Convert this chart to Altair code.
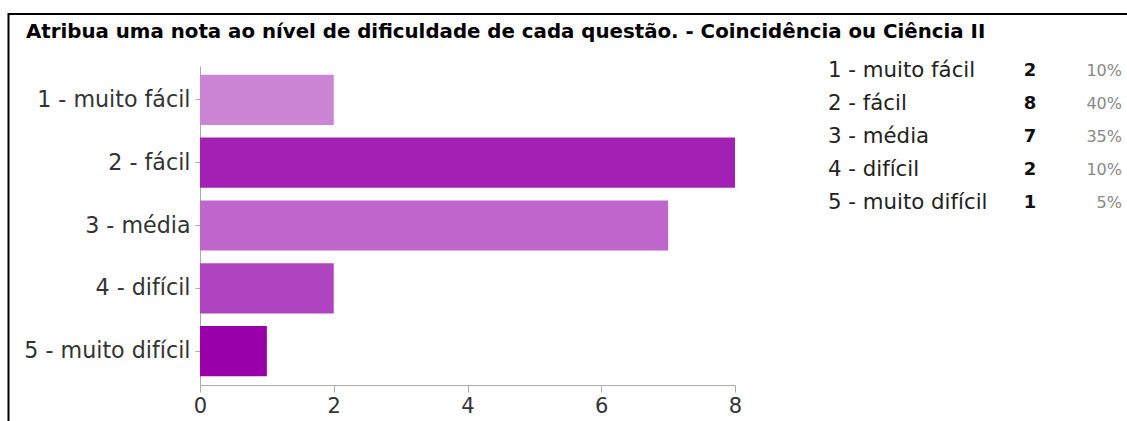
import altair as alt
import pandas as pd

categories = ["1 - muito fácil", "2 - fácil", "3 - média", "4 - difícil", "5 - muito difícil"]
counts = [2, 8, 7, 2, 1]
percents = ["10%", "40%", "35%", "10%", "5%"]
bar_colors = ["#cc84d4", "#a221b4", "#bf65cc", "#b044c0", "#9900aa"]
x_ticks = [0, 2, 4, 6, 8]
title_text = "Atribua uma nota ao nível de dificuldade de cada questão. - Coincidência ou Ciência II"

df = pd.DataFrame({"cat": categories, "n": counts, "pct": percents})
one = pd.DataFrame({"d": [0]})

FONT = "DejaVu Sans"

base = alt.Chart(df)

bars = base.mark_bar().encode(
    y=alt.Y("cat:N", sort=categories,
            scale=alt.Scale(paddingInner=0.2, paddingOuter=0.14),
            axis=alt.Axis(title=None, labelFont=FONT, labelFontSize=22.2, labelColor="#333",
                          domainColor="#aaa", tickColor="#aaa", tickSize=5, labelPadding=5)),
    x=alt.X("n:Q", scale=alt.Scale(domain=[0, 8], nice=False),
            axis=alt.Axis(title=None, values=x_ticks, grid=False, labelFont=FONT, labelFontSize=21,
                          labelColor="#333", domainColor="#aaa", tickColor="#aaa", tickSize=7,
                          labelPadding=3, labelFlush=False)),
    color=alt.Color("cat:N", scale=alt.Scale(domain=categories, range=bar_colors), legend=None),
)

ty = alt.Y("cat:N", sort=categories, scale=alt.Scale(type="point", range=[5, 137], padding=0), axis=None)

t_label = base.mark_text(align="left", baseline="middle", font=FONT, fontSize=21.3, color="#222").encode(
    y=ty, x=alt.value(628), text="cat:N")
t_count = base.mark_text(align="center", baseline="middle", font=FONT, fontSize=18, fontWeight="bold",
                         color="#111").encode(y=ty, x=alt.value(830), text="n:Q")
t_pct = base.mark_text(align="right", baseline="middle", font=FONT, fontSize=16, color="#888").encode(
    y=ty, x=alt.value(922), text="pct:N")

table = alt.layer(t_label, t_count, t_pct)

top_rule = alt.Chart(one).mark_rule(color="black", strokeWidth=2).encode(
    x=alt.value(-192), x2=alt.value(927), y=alt.value(-52))
left_rule = alt.Chart(one).mark_rule(color="black", strokeWidth=2).encode(
    x=alt.value(-191.5), y=alt.value(-53), y2=alt.value(355))
title = alt.Chart(one).mark_text(align="left", baseline="alphabetic", font=FONT, fontSize=19.8,
                                 fontWeight="bold", color="black", text=title_text).encode(
    x=alt.value(-174), y=alt.value(-28))

chart = alt.layer(bars, table, top_rule, left_rule, title).resolve_scale(y="independent").properties(
    width=535, height=319,
    autosize=alt.AutoSizeParams(type="none"),
    padding={"left": 200, "top": 66, "right": 392, "bottom": 36},
    view=alt.ViewBackground(stroke="transparent", strokeWidth=0, strokeOpacity=0),
).configure_view(strokeWidth=0, stroke="transparent", strokeOpacity=0).configure(background="white")

chart.save("out.html", embed_options={"renderer": "svg", "actions": False})
